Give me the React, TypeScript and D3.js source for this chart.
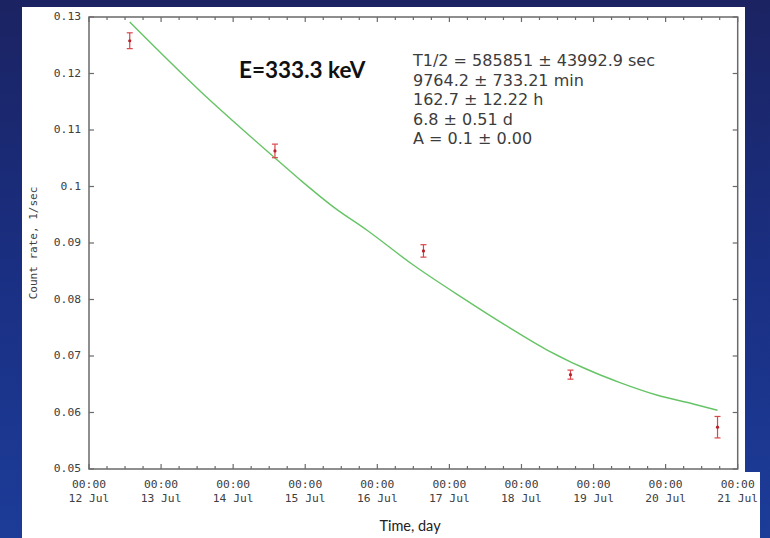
import { useMemo } from "react";
import * as d3 from "d3";

const W = 770;
const H = 538;

// plot frame (gnuplot-like box)
const marginLeft = 89;
const marginTop = 17;
const plotRight = 737.7;
const plotBottom = 469;

const timeDomain = ["2014-07-12T00:00Z", "2014-07-21T00:00Z"];

// measured count rates with error bars
const pointTimes = [
  "2014-07-12T13:34Z",
  "2014-07-14T13:55Z",
  "2014-07-16T15:22Z",
  "2014-07-18T16:19Z",
  "2014-07-20T17:17Z",
];
const pointRates = [0.1258, 0.1063, 0.0886, 0.0667, 0.0574];
const pointErrors = [0.0014, 0.0012, 0.0011, 0.0008, 0.0019];

// fitted decay curve
const fitTimes = [
  "2014-07-12T13:34Z",
  "2014-07-13T12:58Z",
  "2014-07-14T13:22Z",
  "2014-07-14T22:15Z",
  "2014-07-15T09:20Z",
  "2014-07-15T20:28Z",
  "2014-07-16T11:59Z",
  "2014-07-17T04:38Z",
  "2014-07-17T18:30Z",
  "2014-07-18T08:24Z",
  "2014-07-19T01:03Z",
  "2014-07-19T08:48Z",
  "2014-07-19T21:01Z",
  "2014-07-20T09:13Z",
  "2014-07-20T17:17Z",
];
const fitRates = [
  0.1291, 0.1169, 0.1053, 0.1012, 0.0964, 0.0923, 0.0861, 0.0802, 0.0755,
  0.0711, 0.0669, 0.0653, 0.0631, 0.0615, 0.0604,
];

const yTicks = [0.05, 0.06, 0.07, 0.08, 0.09, 0.1, 0.11, 0.12, 0.13];
const yTickLabels = ["0.05", "0.06", "0.07", "0.08", "0.09", "0.1", "0.11", "0.12", "0.13"];

const fitText = [
  "T1/2 = 585851 ± 43992.9 sec",
  "9764.2 ± 733.21 min",
  "162.7 ± 12.22 h",
  "6.8 ± 0.51 d",
  "A = 0.1 ± 0.00",
];
const energyLabel = "E=333.3 keV";
const xTitle = "Time, day";
const yTitle = "Count rate, 1/sec";

const mono = "'DejaVu Sans Mono', monospace";
const axisColor = "#6a6a6a";
const labelColor = "#404040";

export default function App() {
  const x = useMemo(
    () =>
      d3
        .scaleUtc()
        .domain(timeDomain.map((d) => new Date(d)))
        .range([marginLeft, plotRight]),
    []
  );
  const y = useMemo(
    () => d3.scaleLinear().domain([0.05, 0.13]).range([plotBottom, marginTop]),
    []
  );

  const majorX = x.ticks(d3.utcDay.every(1));
  const minorX = x.ticks(d3.utcHour.every(6)).filter((d) => d.getUTCHours() !== 0);

  const fit = fitTimes.map((t, i) => ({ t: new Date(t), v: fitRates[i] }));
  const points = pointTimes.map((t, i) => ({
    t: new Date(t),
    v: pointRates[i],
    e: pointErrors[i],
  }));

  const line = d3
    .line<{ t: Date; v: number }>()
    .x((d) => x(d.t))
    .y((d) => y(d.v))
    .curve(d3.curveMonotoneX);

  const fmtTime = d3.utcFormat("%H:%M");
  const fmtDay = d3.utcFormat("%d %b");

  return (
    <svg
      width={W}
      height={H}
      viewBox={`0 0 ${W} ${H}`}
      style={{ position: "absolute", left: 0, top: 0 }}
    >
      <defs>
        <linearGradient id="bg" x1="0" y1="0" x2="0" y2="1">
          <stop offset="0%" stopColor="#1b2362" />
          <stop offset="50%" stopColor="#1a2f82" />
          <stop offset="100%" stopColor="#1c3c98" />
        </linearGradient>
      </defs>
      <rect width={W} height={H} fill="url(#bg)" />
      {/* white chart panel, a bit wider under the x labels */}
      <path d={`M22,7H745V472H760V${H}H22Z`} fill="#ffffff" />

      {/* fitted curve */}
      <path d={line(fit) ?? ""} fill="none" stroke="#66c466" strokeWidth={1.4} />

      {/* measured points with error bars */}
      <g className="points" stroke="#d9464a" strokeWidth={1.2}>
        {points.map((d, i) => {
          const cx = x(d.t);
          return (
            <g key={i}>
              <line x1={cx} x2={cx} y1={y(d.v - d.e)} y2={y(d.v + d.e)} />
              <line x1={cx - 3} x2={cx + 3} y1={y(d.v - d.e)} y2={y(d.v - d.e)} />
              <line x1={cx - 3} x2={cx + 3} y1={y(d.v + d.e)} y2={y(d.v + d.e)} />
              <circle cx={cx} cy={y(d.v)} r={1.6} fill="#b5222a" stroke="none" />
            </g>
          );
        })}
      </g>

      {/* frame */}
      <rect
        x={marginLeft}
        y={marginTop}
        width={plotRight - marginLeft}
        height={plotBottom - marginTop}
        fill="none"
        stroke={axisColor}
        strokeWidth={1.5}
      />

      {/* x ticks, bottom and top mirrored */}
      <g stroke={axisColor} strokeWidth={1.2}>
        {majorX.map((d, i) => (
          <g key={`M${i}`}>
            <line x1={x(d)} x2={x(d)} y1={plotBottom} y2={plotBottom - 5} />
            <line x1={x(d)} x2={x(d)} y1={marginTop} y2={marginTop + 5} />
          </g>
        ))}
        {minorX.map((d, i) => (
          <g key={`m${i}`}>
            <line x1={x(d)} x2={x(d)} y1={plotBottom} y2={plotBottom - 3} />
            <line x1={x(d)} x2={x(d)} y1={marginTop} y2={marginTop + 3} />
          </g>
        ))}
        {yTicks.map((v, i) => (
          <g key={`y${i}`}>
            <line x1={marginLeft} x2={marginLeft + 5} y1={y(v)} y2={y(v)} />
            <line x1={plotRight} x2={plotRight - 5} y1={y(v)} y2={y(v)} />
          </g>
        ))}
      </g>

      <g fontFamily={mono} fontSize={11.3} fill={labelColor}>
        {majorX.map((d, i) => (
          <text key={i} x={x(d)} textAnchor="middle">
            <tspan x={x(d)} y={488}>
              {fmtTime(d)}
            </tspan>
            <tspan x={x(d)} y={502}>
              {fmtDay(d)}
            </tspan>
          </text>
        ))}
        {yTicks.map((v, i) => (
          <text
            key={i}
            x={marginLeft - 8}
            y={y(v)}
            textAnchor="end"
            dominantBaseline="middle"
          >
            {yTickLabels[i]}
          </text>
        ))}
        <text
          transform={`translate(37,${(marginTop + plotBottom) / 2}) rotate(-90)`}
          textAnchor="middle"
          fontSize={11}
        >
          {yTitle}
        </text>
      </g>

      <text
        x={410}
        y={531}
        textAnchor="middle"
        fontFamily="Lato, sans-serif"
        fontSize={14.5}
        fill="#222"
      >
        {xTitle}
      </text>

      <text
        x={239}
        y={78}
        fontFamily="Lato, sans-serif"
        fontWeight="bold"
        fontSize={22.5}
        fill="#111"
      >
        {energyLabel}
      </text>

      <g fontFamily="'DejaVu Sans', sans-serif" fontSize={16} fill="#3c3c3c">
        {fitText.map((s, i) => (
          <text key={i} x={413} y={66 + i * 19.5}>
            {s}
          </text>
        ))}
      </g>
    </svg>
  );
}
